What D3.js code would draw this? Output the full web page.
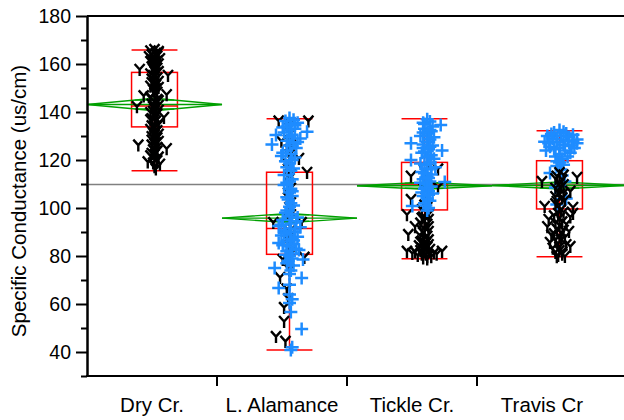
<!DOCTYPE html>
<html>
<head>
<meta charset="utf-8">
<style>
  body { margin: 0; background: #fff; }
  svg text { font-family: "Liberation Sans", Arial, sans-serif; fill: #000; }
</style>
<script src="https://d3js.org/d3.v7.min.js"></script>
</head>
<body>
<script>
// groups and summary stats
var groups = ["Dry Cr.", "L. Alamance", "Tickle Cr.", "Travis Cr"];
var whiskerLo = [115.5, 40.8, 78.9, 79.7];
var q1 = [133.8, 80.7, 99.2, 99.6];
var median = [142.5, 91.5, 110.0, 109.4];
var q3 = [156.5, 114.9, 119.0, 119.7];
var whiskerHi = [165.8, 137.2, 137.2, 132.2];
var means = [143.1, 95.8, 109.3, 109.4];
var ciHalf = [2.6, 1.9, 1.5, 1.5];
var grandMean = 109.8;
var yTicks = [40, 60, 80, 100, 120, 140, 160, 180];
var yMinor = [30, 50, 70, 90, 110, 130, 150, 170];

// points: [offset within group, value]; "Y" = black Y markers, "P" = blue plus markers
var dryY = [[0.00,165.8],[-0.03,165.2],[0.03,165.0],[0.01,164.2],[-0.02,163.6],[0.02,163.0],[0.00,162.4],[-0.02,161.6],[0.02,161.0],[-0.01,160.2],[0.01,159.5],[-0.02,158.6],[-0.11,157.5],[0.02,158.0],[0.00,157.0],[0.10,155.0],[0.01,156.0],[-0.01,155.0],[0.02,154.0],[0.00,153.0],[-0.02,152.0],[0.01,151.0],[0.03,150.0],[-0.01,149.0],[0.02,148.0],[-0.08,146.5],[0.09,147.0],[0.00,147.5],[-0.03,146.0],[0.02,145.0],[0.00,144.0],[-0.02,143.0],[-0.13,142.0],[0.03,142.5],[0.01,141.5],[-0.01,140.0],[0.02,139.0],[0.00,138.0],[0.07,137.5],[-0.02,137.0],[0.01,136.0],[0.03,135.0],[-0.02,134.0],[0.00,133.0],[0.02,132.0],[-0.01,131.0],[0.00,130.0],[0.02,129.0],[-0.02,128.0],[0.01,127.0],[-0.12,126.0],[0.09,124.5],[0.00,126.5],[0.02,125.0],[-0.01,124.0],[0.01,123.0],[0.00,122.0],[-0.03,121.5],[-0.05,119.0],[0.02,119.5],[0.04,118.0],[0.00,117.0],[0.01,116.0],
  [0.03,164.6],[-0.04,162.8],[0.04,162.0],[-0.03,160.8],[0.03,159.8],[0.00,160.6],[-0.01,157.6],[0.03,156.6],[-0.03,155.6],[0.00,154.5],[-0.02,153.5],[0.03,152.5],[0.00,151.5],[-0.03,150.5],[0.01,149.5],[0.00,148.5],[-0.03,145.5],[0.03,144.5],[-0.01,142.0],[0.00,141.0],[0.03,140.5],[-0.03,139.5],[0.01,138.5],[-0.03,136.5],[0.03,134.5],[0.00,134.0],[-0.03,132.5],[0.01,131.5],[0.03,130.5],[-0.02,129.5],[0.00,128.5],[0.03,127.5],[-0.02,126.0],[0.02,123.5],[-0.02,122.5],[0.03,121.0],[0.00,120.0],[-0.01,118.5]];
var alaY = [[-0.08,136.0],[0.14,136.0],[0.00,135.0],[-0.06,127.6],[0.01,131.0],[-0.01,128.0],[0.07,120.4],[0.00,124.0],[0.01,120.0],[0.13,114.6],[-0.01,116.0],[0.00,112.0],[0.01,108.0],[-0.01,104.0],[0.00,100.0],[0.01,97.0],[-0.12,93.7],[0.09,93.7],[0.00,90.0],[-0.01,86.0],[0.01,82.0],[0.11,79.2],[-0.05,78.3],[-0.07,70.8],[0.00,74.0],[-0.04,58.3],[-0.04,52.5],[-0.10,46.2],[-0.03,44.2],
  [0.00,133.0],[0.01,126.0],[0.00,122.0],[-0.01,118.0],[0.01,114.0],[0.00,110.0],[-0.01,106.0],[0.01,102.0],[0.00,95.0],[0.00,88.0],[0.00,84.0],[0.00,80.0],[-0.02,66.0],[-0.01,62.0]];
var alaP = [[0.00,137.5],[0.03,136.8],[-0.03,136.2],[0.06,135.5],[0.01,135.0],[-0.02,134.0],[-0.10,130.4],[0.13,131.8],[0.04,133.0],[0.00,132.5],[-0.04,131.5],[0.02,130.5],[0.08,129.0],[0.00,129.5],[-0.02,128.0],[0.03,127.0],[0.00,126.0],[-0.13,126.5],[0.05,125.0],[-0.02,124.0],[0.01,122.5],[-0.06,121.7],[0.02,120.0],[0.00,118.5],[-0.02,117.0],[0.01,115.5],[-0.04,113.8],[0.02,112.0],[0.00,111.0],[-0.04,109.6],[0.01,108.0],[0.00,106.5],[0.02,105.0],[-0.01,103.5],[0.01,102.0],[0.00,100.5],[-0.02,99.0],[0.02,97.5],[0.00,96.5],[-0.05,95.0],[0.05,94.5],[0.01,93.5],[-0.08,92.5],[0.08,92.0],[0.00,91.5],[-0.03,90.5],[0.04,90.0],[0.00,89.0],[-0.06,88.5],[0.06,88.0],[0.01,87.0],[-0.02,86.0],[-0.08,85.4],[0.03,85.0],[0.00,84.0],[0.05,83.0],[-0.02,82.0],[0.02,81.0],[0.00,80.0],[0.10,78.5],[-0.01,78.0],[0.03,76.0],[-0.11,75.0],[0.01,74.0],[0.00,72.5],[0.09,70.8],[-0.08,66.7],[0.00,68.0],[0.00,64.0],[0.00,60.4],[0.01,56.7],[0.09,49.6],[0.01,40.8],
  [0.04,134.5],[-0.05,133.5],[0.06,127.5],[-0.05,123.0],[0.04,121.0],[-0.03,119.5],[0.03,116.5],[-0.02,110.5],[0.02,107.0],[-0.02,104.5],[0.03,101.0],[-0.03,98.0],[0.06,96.0],[-0.06,93.0],[0.04,91.0],[-0.04,89.5],[0.03,86.5],[-0.05,84.5],[0.07,82.5],[-0.03,80.5],[0.02,79.0],[-0.02,77.0],[0.02,62.0],[0.02,42.0]];
var tickY = [[-0.10,113.0],[0.10,116.0],[0.00,115.0],[0.02,112.0],[0.10,108.3],[-0.01,108.0],[-0.10,103.3],[0.01,104.0],[0.00,101.0],[-0.13,97.0],[0.01,98.0],[-0.01,96.0],[0.00,94.5],[-0.07,92.0],[0.02,93.0],[0.00,91.0],[-0.01,89.5],[-0.12,88.7],[0.02,88.0],[0.00,87.0],[-0.02,86.0],[0.01,85.0],[0.00,84.0],[-0.02,83.0],[0.02,83.5],[-0.13,81.7],[0.13,81.7],[-0.09,80.8],[0.09,80.5],[-0.05,80.0],[0.05,79.5],[0.00,82.0],[0.01,80.5],[-0.01,79.0],[0.02,78.5],
  [0.02,100.0],[-0.02,99.0],[0.03,97.0],[-0.02,95.5],[0.03,95.0],[-0.03,93.5],[0.03,92.0],[-0.02,90.5],[0.03,90.0],[-0.03,88.0],[0.03,86.5],[-0.03,85.5],[0.03,84.5],[-0.04,84.0],[0.04,82.5],[-0.03,82.0],[0.07,81.0],[-0.07,81.5],[0.02,79.5],[-0.02,80.5]];
var tickP = [[0.02,137.0],[0.04,136.0],[-0.01,135.5],[0.12,134.6],[0.06,134.0],[0.00,133.0],[0.05,132.0],[0.02,131.0],[-0.03,130.0],[0.07,129.5],[0.04,128.5],[-0.10,127.0],[0.02,127.5],[0.06,126.0],[-0.01,125.0],[0.13,124.0],[0.03,124.5],[-0.02,123.0],[0.05,122.0],[0.02,121.0],[-0.10,120.0],[0.07,120.5],[0.04,119.0],[0.00,118.0],[0.08,117.0],[0.02,116.0],[-0.02,115.0],[0.05,114.0],[0.02,113.0],[-0.01,112.0],[0.04,111.0],[0.15,110.8],[0.01,110.0],[0.05,109.0],[0.00,108.0],[0.03,107.0],[0.06,106.0],[-0.01,105.0],[0.02,104.0],[0.04,103.0],[0.00,102.0],[-0.09,100.8],[0.03,100.0],[0.02,99.0],
  [0.00,135.0],[0.04,132.5],[-0.01,131.5],[0.03,129.0],[-0.01,126.5],[0.04,125.5],[0.00,123.5],[0.03,121.5],[-0.03,118.5],[0.05,116.5],[0.00,114.5],[0.03,112.5],[-0.03,110.5],[0.02,108.5],[-0.02,106.5],[0.03,105.5],[0.01,101.0]];
var travP = [[0.00,132.5],[-0.04,131.5],[0.05,131.0],[0.10,130.5],[-0.09,130.0],[0.01,130.0],[0.13,128.5],[-0.05,129.0],[0.06,128.0],[-0.11,127.6],[0.13,127.0],[-0.02,127.5],[0.03,126.5],[0.09,126.0],[-0.07,125.5],[0.00,125.0],[-0.10,124.0],[0.04,124.0],[0.08,123.0],[0.00,122.5],[-0.03,121.5],[0.02,120.5],[0.00,119.0],[-0.02,117.5],[0.01,116.0],[-0.07,114.6],[0.02,113.5],[0.04,111.0],[-0.03,108.5],[0.05,104.0],[-0.02,101.5],
  [0.03,131.8],[-0.06,130.8],[0.07,129.5],[-0.02,128.5],[0.10,127.8],[-0.08,127.0],[0.04,126.0],[0.11,125.0],[-0.04,124.5],[0.06,121.5],[-0.02,119.5],[0.03,118.0]];
var travY = [[-0.13,110.8],[0.13,112.5],[0.00,114.5],[-0.02,113.0],[0.02,111.5],[0.00,110.0],[0.01,108.5],[0.08,106.7],[-0.01,107.0],[0.00,105.5],[0.02,104.0],[-0.02,102.5],[-0.11,100.4],[0.10,100.0],[0.00,101.0],[0.01,99.0],[-0.01,97.5],[0.08,96.0],[0.00,95.5],[0.02,94.0],[-0.09,92.0],[0.00,92.5],[-0.02,91.0],[0.01,89.5],[0.00,88.0],[-0.07,85.4],[0.08,83.7],[0.01,86.5],[-0.01,85.0],[0.00,83.5],[-0.03,81.3],[0.04,79.6],[0.00,82.0],[0.02,80.5],[-0.01,80.0],
  [0.03,113.5],[-0.03,112.0],[0.03,109.5],[-0.03,108.0],[0.03,106.0],[-0.03,104.5],[0.04,103.0],[-0.03,101.5],[0.03,98.0],[-0.04,96.5],[0.05,93.0],[-0.03,93.5],[0.03,90.5],[-0.04,89.0],[0.04,87.5],[-0.03,86.5],[0.05,84.5],[-0.05,83.0],[0.02,81.5],[-0.02,79.5],[0.10,97.5],[-0.08,95.0],[0.07,90.0],[-0.06,88.5]];

var W = 624, H = 420;
var plotL = 87, plotT = 16, plotB = 376;

var svg = d3.select("body").append("svg")
    .attr("width", W)
    .attr("height", H);

var y = d3.scaleLinear().domain([30, 180]).range([plotB, plotT]);
// group positions for marks
var x = d3.scaleLinear().domain([-0.5, 3.5]).range([plotL, 627]);
// band scale for the category axis
var xb = d3.scaleBand().domain(groups).range([plotL, 607]);

var red = "#ff0000", green = "#00a000", blue = "#1e8cff";

// grand mean line
svg.append("line")
    .attr("x1", plotL).attr("x2", W)
    .attr("y1", y(grandMean)).attr("y2", y(grandMean))
    .attr("stroke", "#808080").attr("stroke-width", 1.5);

// box plots
var boxW = 0.17;
var boxes = svg.append("g").attr("fill", "none").attr("stroke", red).attr("stroke-width", 1.5);
groups.forEach(function (g, i) {
    var cx = x(i);
    boxes.append("line").attr("x1", cx).attr("x2", cx).attr("y1", y(whiskerHi[i])).attr("y2", y(whiskerLo[i]));
    boxes.append("rect")
        .attr("x", x(i - boxW)).attr("width", x(i + boxW) - x(i - boxW))
        .attr("y", y(q3[i])).attr("height", y(q1[i]) - y(q3[i]))
        .attr("fill", "none");
    [whiskerHi[i], whiskerLo[i], median[i]].forEach(function (v) {
        boxes.append("line").attr("x1", x(i - boxW)).attr("x2", x(i + boxW)).attr("y1", y(v)).attr("y2", y(v));
    });
});

// means diamonds
var dia = svg.append("g").attr("fill", "none").attr("stroke", green).attr("stroke-width", 1.4);
groups.forEach(function (g, i) {
    var m = means[i], h = ciHalf[i];
    var xl = x(i - 0.5), xr = x(i + 0.5), xc = x(i);
    dia.append("path").attr("d",
        "M" + xl + "," + y(m) + "L" + xc + "," + y(m + h) + "L" + xr + "," + y(m) +
        "L" + xc + "," + y(m - h) + "Z");
    dia.append("line").attr("x1", xl).attr("x2", xr).attr("y1", y(m)).attr("y2", y(m));
    var o = h / Math.SQRT2, f = 1 - 1 / Math.SQRT2;
    [m + o, m - o].forEach(function (v) {
        dia.append("line")
            .attr("x1", x(i - 0.5 * f)).attr("x2", x(i + 0.5 * f))
            .attr("y1", y(v)).attr("y2", y(v));
    });
});

// markers
var yGlyph = "M-5,-6L0,-0.5L5,-6M0,-0.5L0,6";
var plusGlyph = "M-6.5,0H6.5M0,-6.5V6.5";

function drawPts(data, gi, kind) {
    svg.append("g").selectAll("path").data(data).enter().append("path")
        .attr("transform", function (d) { return "translate(" + x(gi + d[0]) + "," + y(d[1]) + ")"; })
        .attr("d", kind === "Y" ? yGlyph : plusGlyph)
        .attr("fill", "none")
        .attr("stroke", kind === "Y" ? "#000" : blue)
        .attr("stroke-width", kind === "Y" ? 2.4 : 2.5);
}
drawPts(dryY, 0, "Y");
drawPts(alaY, 1, "Y");
drawPts(alaP, 1, "P");
drawPts(tickY, 2, "Y");
drawPts(tickP, 2, "P");
drawPts(travP, 3, "P");
drawPts(travY, 3, "Y");

// frame top
svg.append("line").attr("x1", plotL).attr("x2", W).attr("y1", plotT).attr("y2", plotT)
    .attr("stroke", "#000").attr("stroke-width", 2);

// y axis
var yAxis = svg.append("g").attr("transform", "translate(" + plotL + ",0)")
    .call(d3.axisLeft(y).tickValues(yTicks).tickSize(11).tickSizeOuter(0).tickPadding(5));
yAxis.selectAll("text").style("font-size", "19.5px");
var yMin = svg.append("g").attr("transform", "translate(" + plotL + ",0)")
    .call(d3.axisLeft(y).tickValues(yMinor).tickSize(6).tickSizeOuter(0).tickFormat(""));
svg.selectAll(".domain, .tick line").attr("stroke", "#000").attr("stroke-width", 2);

// x axis
var xg = svg.append("g").attr("transform", "translate(0," + plotB + ")");
xg.append("line").attr("x1", plotL - 1).attr("x2", W).attr("stroke", "#000").attr("stroke-width", 2);
xg.selectAll(".xt").data(groups.slice(1)).enter().append("line")
    .attr("x1", function (d) { return xb(d); }).attr("x2", function (d) { return xb(d); })
    .attr("y1", 0).attr("y2", 10)
    .attr("stroke", "#000").attr("stroke-width", 2);
xg.selectAll(".xl").data(groups).enter().append("text")
    .attr("x", function (d) { return xb(d) + xb.bandwidth() / 2; })
    .attr("y", 36)
    .attr("text-anchor", "middle")
    .style("font-size", "20.5px")
    .text(function (d) { return d; });

// y label
svg.append("text")
    .attr("transform", "translate(26," + ((plotT + plotB) / 2 + 5) + ") rotate(-90)")
    .attr("text-anchor", "middle")
    .style("font-size", "20.5px")
    .text("Specific Conductance (us/cm)");
</script>
</body>
</html>
